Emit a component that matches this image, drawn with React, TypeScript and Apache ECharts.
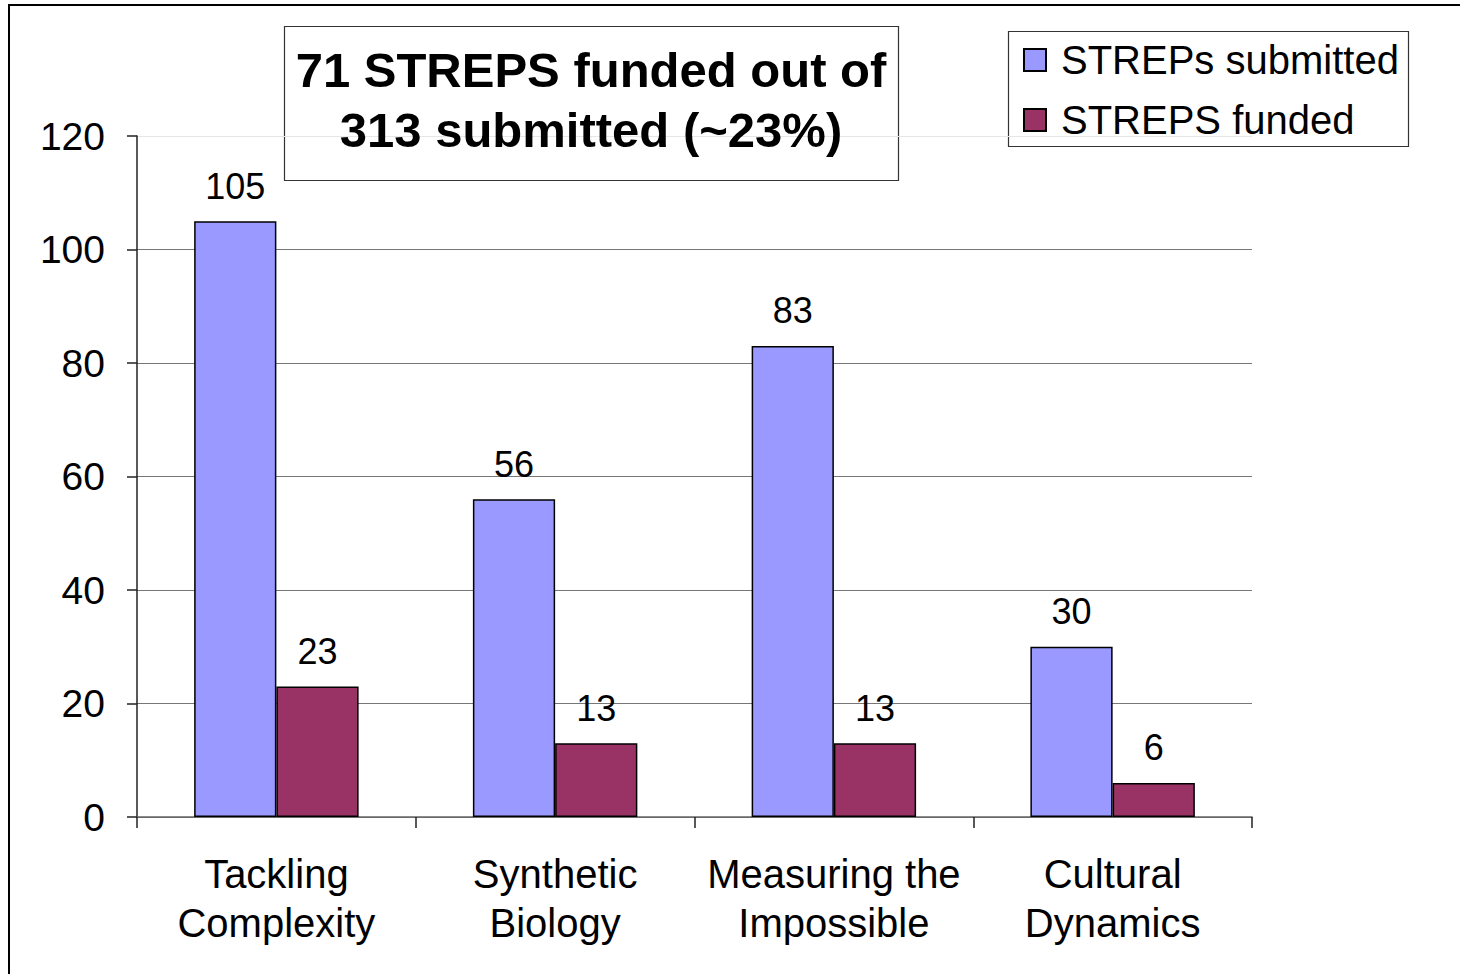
import React, { useEffect, useRef } from "react";
import * as echarts from "echarts";

const categories = ["Tackling\nComplexity", "Synthetic\nBiology", "Measuring the\nImpossible", "Cultural\nDynamics"];
const submitted = [105, 56, 83, 30];
const funded = [23, 13, 13, 6];
const seriesNames = ["STREPs submitted", "STREPS funded"];
const titleText = "71 STREPS funded out of\n313 submitted (~23%)";
const yTicks = { min: 0, max: 120, interval: 20 };

const FONT = "'Liberation Sans', Arial, sans-serif";

export default function App() {
  const ref = useRef<HTMLDivElement>(null);
  useEffect(() => {
    const chart = echarts.init(ref.current!, null, { renderer: "svg" });
    const barBorder = { borderColor: "#000", borderWidth: 1.5 };
    chart.setOption({
      animation: false,
      backgroundColor: "#fff",
      textStyle: { fontFamily: FONT },
      title: {
        text: titleText,
        left: 591,
        top: 40,
        textAlign: "center",
        padding: 0,
        textStyle: { fontFamily: FONT, fontSize: 49, fontWeight: "bold", lineHeight: 60, color: "#000" },
      },
      legend: {
        orient: "vertical",
        left: 1023,
        top: 40,
        padding: 0,
        itemWidth: 22,
        itemHeight: 22,
        itemGap: 20,
        icon: "rect",
        textStyle: { fontFamily: FONT, fontSize: 40, lineHeight: 40, color: "#000", padding: [0, 0, 0, 10] },
        data: seriesNames,
      },
      grid: { left: 137, top: 136, right: 208, bottom: 157, containLabel: false },
      xAxis: {
        type: "category",
        data: categories,
        axisLine: { show: true, lineStyle: { color: "#666", width: 1.5 } },
        axisTick: { show: true, length: 11, lineStyle: { color: "#222", width: 1.5 } },
        axisLabel: { fontFamily: FONT, fontSize: 40, lineHeight: 49, color: "#000", margin: 32, interval: 0 },
        splitLine: { show: false },
      },
      yAxis: {
        type: "value",
        min: yTicks.min,
        max: yTicks.max,
        interval: yTicks.interval,
        axisLine: { show: true, lineStyle: { color: "#222", width: 1.5 } },
        axisTick: { show: true, length: 10, lineStyle: { color: "#222", width: 1.5 } },
        axisLabel: { fontFamily: FONT, fontSize: 39, color: "#000", margin: 32 },
        splitLine: {
          show: true,
          lineStyle: { color: ["#777", "#777", "#777", "#777", "#777", "#777", "#e6e6e6"], width: 1 },
        },
      },
      series: [
        {
          name: seriesNames[0],
          type: "bar",
          data: submitted,
          barGap: "0%",
          barCategoryGap: "41%",
          itemStyle: { color: "#9999ff", ...barBorder },
          label: { show: true, position: "top", distance: 17, fontFamily: FONT, fontSize: 36, color: "#000" },
        },
        {
          name: seriesNames[1],
          type: "bar",
          data: funded,
          barGap: "0%",
          barCategoryGap: "41%",
          itemStyle: { color: "#993366", ...barBorder },
          label: { show: true, position: "top", distance: 17, fontFamily: FONT, fontSize: 36, color: "#000" },
        },
      ],
      graphic: [
        {
          type: "rect",
          z: 100,
          silent: true,
          shape: { x: 9, y: 5, width: 1470, height: 990 },
          style: { fill: "none", stroke: "#000", lineWidth: 2 },
        },
        {
          type: "rect",
          z: -1,
          silent: true,
          shape: { x: 284.5, y: 26.5, width: 614, height: 154 },
          style: { fill: "#fff", stroke: "#333", lineWidth: 1.2 },
        },
        {
          type: "rect",
          z: -1,
          silent: true,
          shape: { x: 1008.5, y: 31.5, width: 400, height: 115 },
          style: { fill: "#fff", stroke: "#333", lineWidth: 1.2 },
        },
      ],
    });
    return () => chart.dispose();
  }, []);
  return <div ref={ref} style={{ position: "absolute", left: 0, top: 0, width: 1460, height: 974 }} />;
}
